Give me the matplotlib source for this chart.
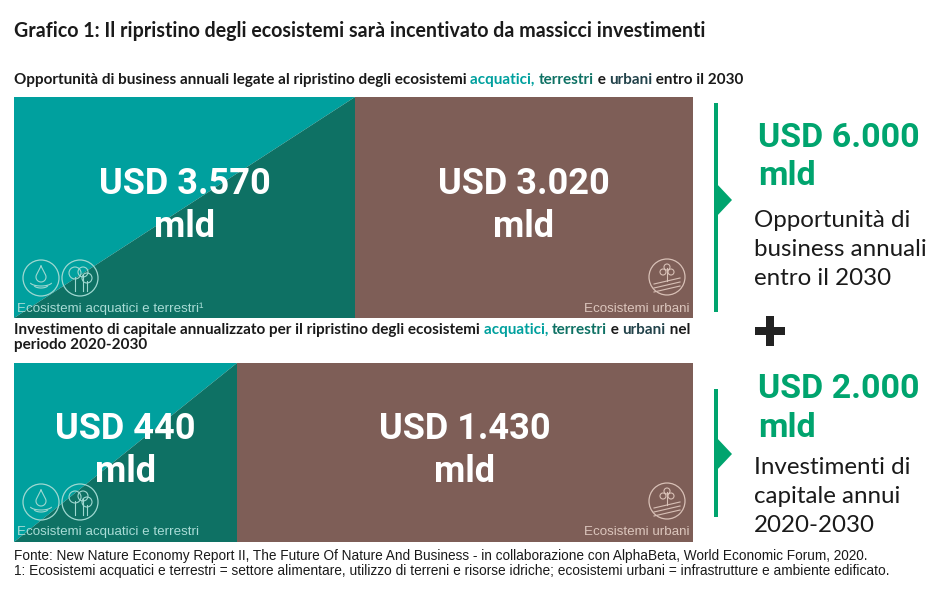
import numpy as np
import matplotlib.pyplot as plt
from matplotlib.patches import Circle, Polygon, Rectangle

# Data (USD miliardi)
segments = ["Ecosistemi acquatici e terrestri", "Ecosistemi urbani"]
opportunity_values = [3570, 3020]
investment_values = [440, 1430]
total_labels = ["Opportunità di\nbusiness annuali\nentro il 2030",
                "Investimenti di\ncapitale annui\n2020-2030"]
total_values = [6000, 2000]

TEAL = "#00a09e"
DARK = "#0e7164"
BROWN = "#7e5e57"
GREEN = "#00a46e"
SLATE = "#22424a"
INK = "#1a1a1a"

BIG = ["Roboto", "DejaVu Sans"]
TXT = ["Lato", "DejaVu Sans"]
SMALL = ["Liberation Sans Narrow", "Liberation Sans", "DejaVu Sans"]


def fmt(v):
    return "USD " + f"{v:,}".replace(",", ".") + "\nmld"


def rich(ax, x, y, parts, **kw):
    # consecutive text pieces in different colours on one line
    r = ax.figure.canvas.get_renderer()
    for s, col in parts:
        t = ax.text(x, y, s, color=col, **kw)
        x += t.get_window_extent(renderer=r).width


def icons_water_land(ax, cx, cy, col):
    for dx in (0, 39):
        ax.add_patch(Circle((cx + dx, cy), 18, fill=False, ec=col, lw=0.9, zorder=5))
    # drop
    th = np.radians(np.linspace(-30, 210, 60))
    dxs = np.concatenate([[cx], cx + 5 * np.cos(th), [cx]])
    dys = np.concatenate([[cy - 12], cy - 1 + 5 * np.sin(th), [cy - 12]])
    ax.plot(dxs, dys, color=col, lw=0.8, zorder=6)
    u = np.radians(np.linspace(20, 160, 30))
    ax.plot(cx + 11 * np.cos(u), cy + 4 + 4 * np.sin(u), color=col, lw=0.8, zorder=6)
    ax.plot(cx + 7 * np.cos(u), cy + 7 + 3 * np.sin(u), color=col, lw=0.8, zorder=6)
    # trees
    tx = cx + 39
    for ox, oy, rr in ((-5, -5, 6), (3, -6, 5), (7, 0, 5)):
        ax.add_patch(Circle((tx + ox, cy + oy), rr, fill=False, ec=col, lw=0.8, zorder=6))
        ax.plot([tx + ox, tx + ox], [cy + oy + rr - 2, cy + 13], color=col, lw=0.8, zorder=6)


def icon_urban(ax, cx, cy, col):
    ax.add_patch(Circle((cx, cy), 18, fill=False, ec=col, lw=0.9, zorder=5))
    ax.plot([cx, cx], [cy - 9, cy + 4], color=col, lw=0.8, zorder=6)
    for ox, oy in ((-4, -5), (4, -5), (0, -10)):
        ax.add_patch(Circle((cx + ox, cy + oy), 3, fill=False, ec=col, lw=0.8, zorder=6))
    u = np.linspace(-1, 1, 30)
    for off in (4, 8, 12):
        ax.plot(cx + 13 * u, cy + off - 3 * u, color=col, lw=0.8, zorder=6)


fig = plt.figure(figsize=(9.45, 5.96), dpi=100)
ax = fig.add_axes([0, 0, 1, 1])
ax.set_xlim(0, 945)
ax.set_ylim(596, 0)
ax.axis("off")

ax.text(14, 37, "Grafico 1: Il ripristino degli ecosistemi sarà incentivato da massicci investimenti",
        fontsize=14.1, fontweight="bold", family=TXT, color=INK, va="baseline")

hl = [("acquatici, ", TEAL), ("terrestri", DARK), (" e ", INK), ("urbani", SLATE)]
sub_kw = dict(fontsize=11, fontweight="bold", family=TXT, va="baseline")
rich(ax, 14, 84, [("Opportunità di business annuali legate al ripristino degli ecosistemi ", INK)]
     + hl + [(" entro il 2030", INK)], **sub_kw)
rich(ax, 14, 334, [("Investimento di capitale annualizzato per il ripristino degli ecosistemi ", INK)]
     + hl + [(" nel", INK)], **sub_kw)
ax.text(14, 349, "periodo 2020-2030", color=INK, **sub_kw)

# blocks: (values, top, bottom, split x, icon y, label baseline)
blocks = [(opportunity_values, 97, 318, 355, 278, 312, "¹"),
          (investment_values, 363, 542, 237, 502, 535, "")]
x0, x1 = 14, 693
for vals, top, bot, xs, icy, lab_y, sup in blocks:
    ax.add_patch(Polygon([(x0, top), (xs, top), (x0, bot)], closed=True, fc=TEAL, ec="none"))
    ax.add_patch(Polygon([(xs, top), (xs, bot), (x0, bot)], closed=True, fc=DARK, ec="none"))
    ax.add_patch(Rectangle((xs, top), x1 - xs, bot - top, fc=BROWN, ec="none"))
    cy = top + (bot - top) * 0.49
    ax.text((x0 + xs) / 2, cy, fmt(vals[0]), ha="center", va="center", color="white",
            fontsize=26, fontweight="bold", family=BIG, linespacing=1.25)
    ax.text((xs + x1) / 2, cy, fmt(vals[1]), ha="center", va="center", color="white",
            fontsize=26, fontweight="bold", family=BIG, linespacing=1.25)
    ax.text(17, lab_y, segments[0] + sup, color="#a9dcd6", fontsize=9.6, family=SMALL,
            va="baseline")
    ax.text(689, lab_y, segments[1], color="#dcc6bd", fontsize=9.6, family=SMALL,
            va="baseline", ha="right")
    icons_water_land(ax, 41, icy, "#9fd8d1")
    icon_urban(ax, 667, icy - 1, "#d8c0b6")

# right panel: (line top, line bottom, pointer y, value baselines, label baseline)
panels = [(103, 312, 200, 147, 185, 227), (389, 517, 454, 398, 437, 474)]
for i, (ly0, ly1, tip_y, b1, b2, b3) in enumerate(panels):
    ax.add_patch(Rectangle((714, ly0), 4, ly1 - ly0, fc=GREEN, ec="none"))
    ax.add_patch(Polygon([(716, tip_y - 17), (732, tip_y), (716, tip_y + 17)],
                         closed=True, fc=GREEN, ec="none"))
    line1, line2 = fmt(total_values[i]).split("\n")
    ax.text(758, b1, line1, color=GREEN, fontsize=24.5, fontweight="bold", family=BIG,
            va="baseline")
    ax.text(758, b2, line2, color=GREEN, fontsize=24.5, fontweight="bold", family=BIG,
            va="baseline")
    for k, s in enumerate(total_labels[i].split("\n")):
        ax.text(754, b3 + 29 * k, s, color=INK, fontsize=17.4, family=TXT, va="baseline")

# plus sign
ax.add_patch(Rectangle((755, 327), 30, 8, fc="#222222", ec="none"))
ax.add_patch(Rectangle((766, 316), 8, 30, fc="#222222", ec="none"))

ax.text(14, 560, "Fonte: New Nature Economy Report II, The Future Of Nature And Business - "
        "in collaborazione con AlphaBeta, World Economic Forum, 2020.",
        fontsize=9.8, family=SMALL, color=INK, va="baseline")
ax.text(14, 575, "1: Ecosistemi acquatici e terrestri = settore alimentare, utilizzo di terreni "
        "e risorse idriche; ecosistemi urbani = infrastrutture e ambiente edificato.",
        fontsize=9.9, family=SMALL, color=INK, va="baseline")

fig.savefig("out.png", dpi=100)
